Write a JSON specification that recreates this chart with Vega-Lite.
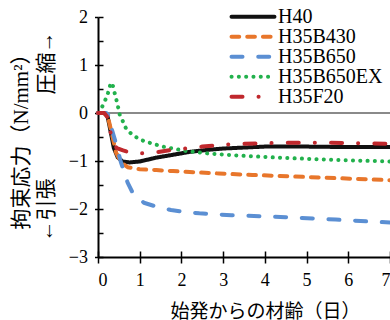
{
  "$schema": "https://vega.github.io/schema/vega-lite/v6.json",
  "width": 292,
  "height": 240,
  "autosize": {"type": "none"},
  "padding": {"left": 98, "top": 17, "right": 0, "bottom": 63},
  "background": "white",
  "config": {
    "view": {"stroke": null},
    "axis": {
      "domainColor": "black",
      "domainWidth": 2,
      "tickColor": "black",
      "tickWidth": 1.5,
      "grid": false,
      "labelFont": "Liberation Serif, Times New Roman, DejaVu Serif, serif",
      "labelFontSize": 18,
      "labelColor": "black",
      "titleFont": "Liberation Serif, Times New Roman, Noto Sans CJK JP, serif",
      "titleFontWeight": "normal",
      "titleColor": "black"
    },
    "style": {
      "guide-label": {"font": "Liberation Serif, Times New Roman, DejaVu Serif, serif", "fontSize": 18, "fill": "black"}
    }
  },
  "data": {
    "values": [
      {"s": "H40", "x": 0, "y": 0}, {"s": "H40", "x": 0.15, "y": 0}, {"s": "H40", "x": 0.23, "y": -0.07},
      {"s": "H40", "x": 0.31, "y": -0.42}, {"s": "H40", "x": 0.38, "y": -0.73}, {"s": "H40", "x": 0.47, "y": -0.92},
      {"s": "H40", "x": 0.59, "y": -1.01}, {"s": "H40", "x": 0.75, "y": -1.03}, {"s": "H40", "x": 1.0, "y": -1.01},
      {"s": "H40", "x": 1.4, "y": -0.93}, {"s": "H40", "x": 1.8, "y": -0.87}, {"s": "H40", "x": 2.2, "y": -0.81},
      {"s": "H40", "x": 2.6, "y": -0.77}, {"s": "H40", "x": 3.0, "y": -0.74}, {"s": "H40", "x": 3.5, "y": -0.72},
      {"s": "H40", "x": 4.0, "y": -0.7}, {"s": "H40", "x": 5.0, "y": -0.7}, {"s": "H40", "x": 6.0, "y": -0.71},
      {"s": "H40", "x": 7.0, "y": -0.71},

      {"s": "H35B430", "x": 0, "y": 0}, {"s": "H35B430", "x": 0.15, "y": 0}, {"s": "H35B430", "x": 0.22, "y": -0.05},
      {"s": "H35B430", "x": 0.27, "y": -0.2}, {"s": "H35B430", "x": 0.35, "y": -0.5}, {"s": "H35B430", "x": 0.43, "y": -0.82},
      {"s": "H35B430", "x": 0.55, "y": -1.03}, {"s": "H35B430", "x": 0.71, "y": -1.13}, {"s": "H35B430", "x": 1.0, "y": -1.17},
      {"s": "H35B430", "x": 1.4, "y": -1.19}, {"s": "H35B430", "x": 1.8, "y": -1.21}, {"s": "H35B430", "x": 2.2, "y": -1.23},
      {"s": "H35B430", "x": 2.9, "y": -1.26}, {"s": "H35B430", "x": 3.7, "y": -1.29}, {"s": "H35B430", "x": 4.6, "y": -1.32},
      {"s": "H35B430", "x": 5.8, "y": -1.36}, {"s": "H35B430", "x": 7.0, "y": -1.4},

      {"s": "H35B650", "x": 0, "y": 0}, {"s": "H35B650", "x": 0.2, "y": 0}, {"s": "H35B650", "x": 0.25, "y": -0.05},
      {"s": "H35B650", "x": 0.31, "y": -0.28}, {"s": "H35B650", "x": 0.43, "y": -0.63}, {"s": "H35B650", "x": 0.55, "y": -1.03},
      {"s": "H35B650", "x": 0.71, "y": -1.45}, {"s": "H35B650", "x": 0.83, "y": -1.66}, {"s": "H35B650", "x": 1.1, "y": -1.87},
      {"s": "H35B650", "x": 1.43, "y": -1.96}, {"s": "H35B650", "x": 1.75, "y": -2.02}, {"s": "H35B650", "x": 2.07, "y": -2.06},
      {"s": "H35B650", "x": 2.43, "y": -2.09}, {"s": "H35B650", "x": 3.2, "y": -2.13}, {"s": "H35B650", "x": 3.9, "y": -2.15},
      {"s": "H35B650", "x": 4.5, "y": -2.17}, {"s": "H35B650", "x": 5.7, "y": -2.22}, {"s": "H35B650", "x": 6.5, "y": -2.26},
      {"s": "H35B650", "x": 7.0, "y": -2.28},

      {"s": "H35B650EX", "x": 0.03, "y": 0}, {"s": "H35B650EX", "x": 0.1, "y": 0.13}, {"s": "H35B650EX", "x": 0.18, "y": 0.28},
      {"s": "H35B650EX", "x": 0.24, "y": 0.42}, {"s": "H35B650EX", "x": 0.3, "y": 0.6}, {"s": "H35B650EX", "x": 0.34, "y": 0.63},
      {"s": "H35B650EX", "x": 0.38, "y": 0.48}, {"s": "H35B650EX", "x": 0.44, "y": 0.28}, {"s": "H35B650EX", "x": 0.48, "y": 0.13},
      {"s": "H35B650EX", "x": 0.52, "y": -0.03}, {"s": "H35B650EX", "x": 0.6, "y": -0.18}, {"s": "H35B650EX", "x": 0.68, "y": -0.34},
      {"s": "H35B650EX", "x": 0.82, "y": -0.45}, {"s": "H35B650EX", "x": 1.0, "y": -0.55}, {"s": "H35B650EX", "x": 1.16, "y": -0.6},
      {"s": "H35B650EX", "x": 1.35, "y": -0.65}, {"s": "H35B650EX", "x": 1.55, "y": -0.7}, {"s": "H35B650EX", "x": 1.73, "y": -0.73},
      {"s": "H35B650EX", "x": 1.91, "y": -0.76}, {"s": "H35B650EX", "x": 2.1, "y": -0.79}, {"s": "H35B650EX", "x": 2.6, "y": -0.84},
      {"s": "H35B650EX", "x": 3.07, "y": -0.87}, {"s": "H35B650EX", "x": 3.63, "y": -0.9}, {"s": "H35B650EX", "x": 4.6, "y": -0.94},
      {"s": "H35B650EX", "x": 5.76, "y": -0.98}, {"s": "H35B650EX", "x": 7.0, "y": -1.01},

      {"s": "H35F20", "x": 0, "y": 0}, {"s": "H35F20", "x": 0.15, "y": 0}, {"s": "H35F20", "x": 0.22, "y": -0.08},
      {"s": "H35F20", "x": 0.3, "y": -0.4}, {"s": "H35F20", "x": 0.38, "y": -0.66}, {"s": "H35F20", "x": 0.45, "y": -0.73},
      {"s": "H35F20", "x": 0.6, "y": -0.78}, {"s": "H35F20", "x": 0.8, "y": -0.83}, {"s": "H35F20", "x": 1.1, "y": -0.84},
      {"s": "H35F20", "x": 1.4, "y": -0.82}, {"s": "H35F20", "x": 1.75, "y": -0.77}, {"s": "H35F20", "x": 2.1, "y": -0.74},
      {"s": "H35F20", "x": 2.5, "y": -0.7}, {"s": "H35F20", "x": 3.0, "y": -0.66}, {"s": "H35F20", "x": 3.5, "y": -0.64},
      {"s": "H35F20", "x": 4.0, "y": -0.63}, {"s": "H35F20", "x": 4.5, "y": -0.62}, {"s": "H35F20", "x": 5.5, "y": -0.62},
      {"s": "H35F20", "x": 6.2, "y": -0.63}, {"s": "H35F20", "x": 7.0, "y": -0.64}
    ]
  },
  "resolve": {"axis": {"x": "independent", "y": "independent"}},
  "layer": [
    {
      "mark": {"type": "rule", "color": "#8a8a8a", "strokeWidth": 1.5},
      "encoding": {
        "y": {"datum": 0, "type": "quantitative", "scale": {"domain": [-3, 2], "nice": false}, "axis": null}
      }
    },
    {
      "mark": {"type": "point", "opacity": 0},
      "encoding": {
        "x": {"field": "x", "type": "quantitative", "scale": {"domain": [0, 7], "nice": false},
          "axis": {"orient": "bottom", "values": [0, 1, 2, 3, 4, 5, 6, 7], "tickSize": -6, "labels": false, "domain": false, "title": null}},
        "y": {"field": "y", "type": "quantitative", "scale": {"domain": [-3, 2], "nice": false},
          "axis": {"orient": "left", "values": [-3, -2.5, -2, -1.5, -1, -0.5, 0, 0.5, 1, 1.5, 2], "tickSize": -5, "labels": false, "domain": false, "title": null}}
      }
    },
    {
      "mark": {"type": "line", "strokeWidth": 4, "strokeCap": "round", "strokeJoin": "round"},
      "encoding": {
        "x": {"field": "x", "type": "quantitative", "scale": {"domain": [0, 7], "nice": false},
          "axis": {"orient": "bottom", "values": [0, 1, 2, 3, 4, 5, 6, 7], "tickSize": 6, "labelPadding": 8,
            "labelFont": "Liberation Serif, Times New Roman, DejaVu Serif, serif", "labelFontSize": 18,
            "title": "始発からの材齢（日）", "titleFontSize": 19, "titleX": 167, "titleY": 45}},
        "y": {"field": "y", "type": "quantitative", "scale": {"domain": [-3, 2], "nice": false},
          "axis": {"orient": "left", "values": [-3, -2, -1, 0, 1, 2], "tickSize": 3.5, "labelPadding": 7,
            "labelFont": "Liberation Serif, Times New Roman, DejaVu Serif, serif", "labelFontSize": 18,
            "title": ["拘束応力（N/mm²）", "←引張　　　　圧縮→"], "titleFontSize": 21, "titleLineHeight": 25,
            "titleX": -67, "titleY": 119}},
        "color": {"field": "s", "type": "nominal",
          "scale": {"domain": ["H40", "H35B430", "H35B650", "H35B650EX", "H35F20"],
            "range": ["#111111", "#E8762B", "#5B8FD3", "#22B14C", "#C0282D"]},
          "legend": {"title": null, "orient": "none", "legendX": 145, "legendY": -10.3, "padding": 0,
            "symbolType": "M-3.58,0H3.58", "symbolSize": 144, "symbolStrokeWidth": 4, "symbolFillColor": "transparent", "labelOffset": 15,
            "labelFont": "Liberation Serif, Times New Roman, DejaVu Serif, serif", "labelFontSize": 20, "labelColor": "black", "rowPadding": 0,
            "encode": {"symbols": {"update": {"strokeCap": {"value": "round"}, "fill": {"value": "transparent"}}}}}},
        "strokeDash": {"field": "s", "type": "nominal",
          "scale": {"domain": ["H40", "H35B430", "H35B650", "H35B650EX", "H35F20"],
            "range": [[1, 0], [7.7, 8], [11, 15.7], [0.1, 7.2], [11, 16, 0.1, 16.2]]},
          "legend": {"title": null, "orient": "none", "legendX": 145, "legendY": -10.3, "padding": 0,
            "symbolType": "M-3.58,0H3.58", "symbolSize": 144, "symbolStrokeWidth": 4, "symbolFillColor": "transparent", "labelOffset": 15,
            "labelFont": "Liberation Serif, Times New Roman, DejaVu Serif, serif", "labelFontSize": 20, "labelColor": "black", "rowPadding": 0,
            "encode": {"symbols": {"update": {"strokeCap": {"value": "round"}, "fill": {"value": "transparent"}}}}}}
      }
    }
  ]
}
